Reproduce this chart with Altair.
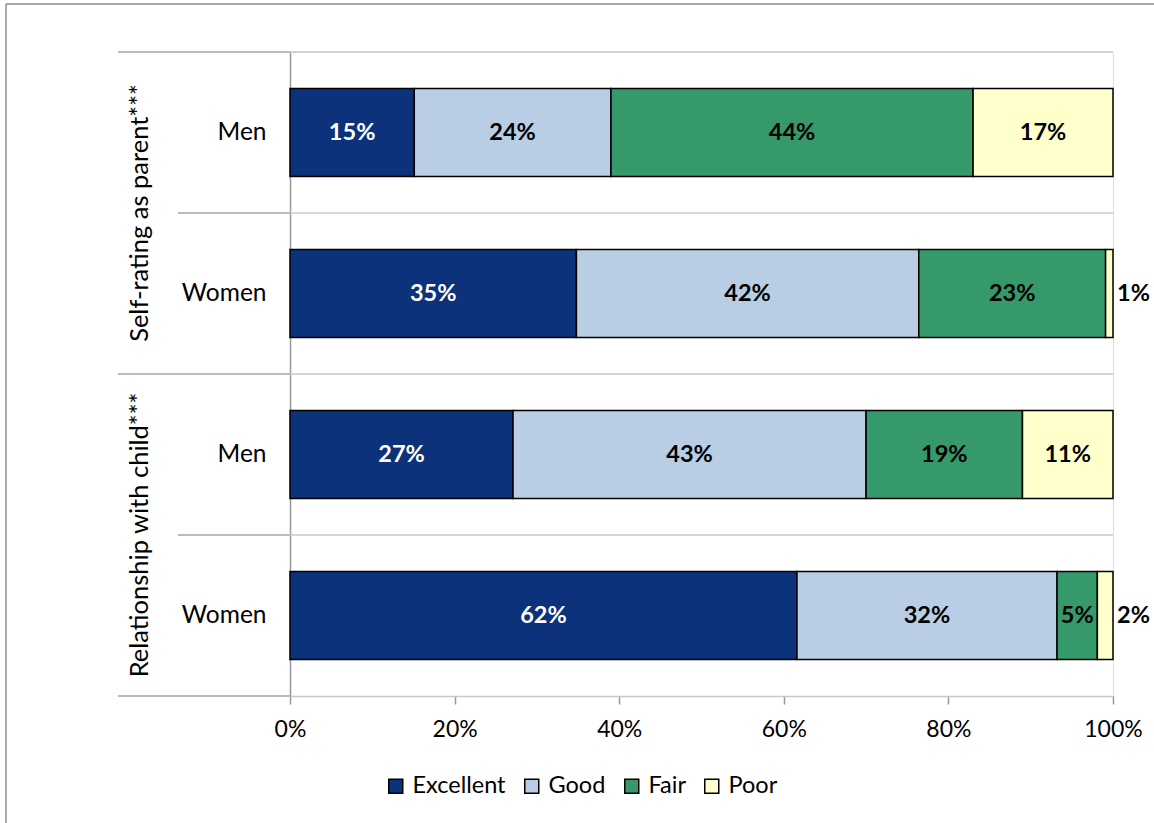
import altair as alt
import pandas as pd

# Survey categories and shares (percent of respondents)
groups = ["Self-rating as parent***", "Relationship with child***"]
sexes = ["Men", "Women"]
ratings = ["Excellent", "Good", "Fair", "Poor"]
colors = ["#0B327A", "#B9CDE5", "#36996A", "#FFFFCC"]

self_men = [15.1, 23.9, 44.0, 17.0]
self_women = [34.8, 41.6, 22.7, 0.9]
rel_men = [27.1, 42.9, 19.0, 11.0]
rel_women = [61.6, 31.6, 4.9, 1.9]

tick_values = [0, 20, 40, 60, 80, 100]

series = {
    (groups[0], "Men"): self_men,
    (groups[0], "Women"): self_women,
    (groups[1], "Men"): rel_men,
    (groups[1], "Women"): rel_women,
}

rows = []
records = []
for g in groups:
    for s in sexes:
        key = f"{g}|{s}"
        rows.append(key)
        for i, (r, v) in enumerate(zip(ratings, series[(g, s)])):
            records.append({"row": key, "group": g, "sex": s, "rating": r,
                            "order": i, "value": v})
df = pd.DataFrame(records)

row_df = pd.DataFrame({"row": rows,
                       "group": [r.split("|")[0] for r in rows],
                       "sex": [r.split("|")[1] for r in rows]})

W, H = 823, 644
FONT = "Lato"
LABEL_SIZE = 24.5
VALUE_SIZE = 23.5

bar_y = alt.Scale(domain=rows, paddingInner=0.453, paddingOuter=0.2265)
slot_y = alt.Scale(domain=rows, paddingInner=0, paddingOuter=0)
group_y = alt.Scale(domain=groups, paddingInner=0, paddingOuter=0)
x_scale = alt.Scale(domain=[0, 100], nice=False)

stacked = alt.Chart(df).transform_stack(
    stack="value", groupby=["row"], as_=["x0", "x1"],
    sort=[alt.SortField("order", order="ascending")]
).transform_calculate(
    mid="(datum.x0 + datum.x1) / 2",
    label="format(datum.value, '.0f') + '%'",
)

bars = stacked.mark_bar(stroke="black", strokeWidth=1.5).encode(
    y=alt.Y("row:N", scale=bar_y, title=None,
            axis=alt.Axis(labelExpr="split(datum.label, '|')[1]",
                          labelFontSize=LABEL_SIZE, labelFont=FONT,
                          labelColor="black", labelPadding=24, ticks=False,
                          domainColor="#999999", domainWidth=1.5)),
    x=alt.X("x0:Q", scale=x_scale, title=None,
            axis=alt.Axis(values=tick_values, labelExpr="datum.value + '%'",
                          labelFontSize=23, labelFont=FONT, labelColor="black",
                          labelFlush=False, labelOverlap=False,
                          grid=False, tickSize=8, tickColor="#999999",
                          tickWidth=1.5,
                          domainColor="#c8c8c8", domainWidth=1.5,
                          labelPadding=14)),
    x2="x1:Q",
    color=alt.Color("rating:N", scale=alt.Scale(domain=ratings, range=colors),
                    title=None,
                    legend=alt.Legend(orient="none", direction="horizontal",
                                      legendX=94, legendY=722,
                                      symbolType="square", symbolSize=196,
                                      symbolStrokeColor="black",
                                      symbolStrokeWidth=1.5,
                                      labelFontSize=23.5, labelFont=FONT,
                                      labelColor="black", labelOffset=5,
                                      columnPadding=14)),
)

inside = stacked.transform_filter("datum.value >= 3").mark_text(
    font=FONT, fontSize=VALUE_SIZE, fontWeight="bold", align="center",
    baseline="middle"
).encode(
    y=alt.Y("row:N", scale=bar_y, axis=None),
    x=alt.X("mid:Q", scale=x_scale),
    text="label:N",
    color=alt.condition(alt.datum.rating == "Excellent",
                        alt.value("white"), alt.value("black")),
)

outside = stacked.transform_filter("datum.value < 3").mark_text(
    font=FONT, fontSize=VALUE_SIZE, fontWeight="bold", align="left",
    baseline="middle", dx=4, color="black"
).encode(
    y=alt.Y("row:N", scale=bar_y, axis=None),
    x=alt.X("x1:Q", scale=x_scale),
    text="label:N",
)

base_rows = alt.Chart(row_df)

# Category separators: long at group starts, shorter within a group
group_sep = base_rows.transform_filter(alt.datum.sex == "Men").mark_rule(
    color="#a6a6a6", strokeWidth=1.5).encode(
    y=alt.Y("row:N", scale=slot_y, axis=None, bandPosition=0),
    x=alt.value(-172), x2=alt.value(0))
inner_sep = base_rows.transform_filter(alt.datum.sex == "Women").mark_rule(
    color="#a6a6a6", strokeWidth=1.5).encode(
    y=alt.Y("row:N", scale=slot_y, axis=None, bandPosition=0),
    x=alt.value(-112), x2=alt.value(0))
plot_sep = base_rows.mark_rule(color="#c8c8c8", strokeWidth=1.5).encode(
    y=alt.Y("row:N", scale=slot_y, axis=None, bandPosition=0),
    x=alt.value(0), x2=alt.value(W))
bottom_sep = base_rows.transform_filter(alt.datum.row == rows[-1]).mark_rule(
    color="#a6a6a6", strokeWidth=1.5).encode(
    y=alt.Y("row:N", scale=slot_y, axis=None, bandPosition=1),
    x=alt.value(-172), x2=alt.value(0))

group_df = pd.DataFrame({"group": groups})
group_labels = alt.Chart(group_df).mark_text(
    font=FONT, fontSize=25.5, angle=270, align="center", baseline="middle",
    color="black").encode(
    y=alt.Y("group:N", scale=group_y, axis=None),
    x=alt.value(-150),
    text="group:N")

# Outer frame (top and left edges)
frame_top = base_rows.transform_filter(alt.datum.row == rows[0]).mark_rule(
    color="#8c8c8c", strokeWidth=1.5).encode(
    x=alt.value(-284), x2=alt.value(W + 60), y=alt.value(-48))
frame_left = base_rows.transform_filter(alt.datum.row == rows[0]).mark_rule(
    color="#8c8c8c", strokeWidth=1.5).encode(
    x=alt.value(-284), y=alt.value(-48), y2=alt.value(H + 140))

chart = alt.layer(
    frame_top, frame_left,
    plot_sep, group_sep, inner_sep, bottom_sep,
    bars, inside, outside, group_labels,
).resolve_scale(y="independent").properties(
    width=W, height=H,
    autosize=alt.AutoSizeParams(type="none"),
    padding={"left": 290, "top": 52, "right": 41, "bottom": 127},
).configure_view(stroke=None).configure(background="white")

chart.save("out.html", embed_options={"renderer": "svg", "actions": False})
